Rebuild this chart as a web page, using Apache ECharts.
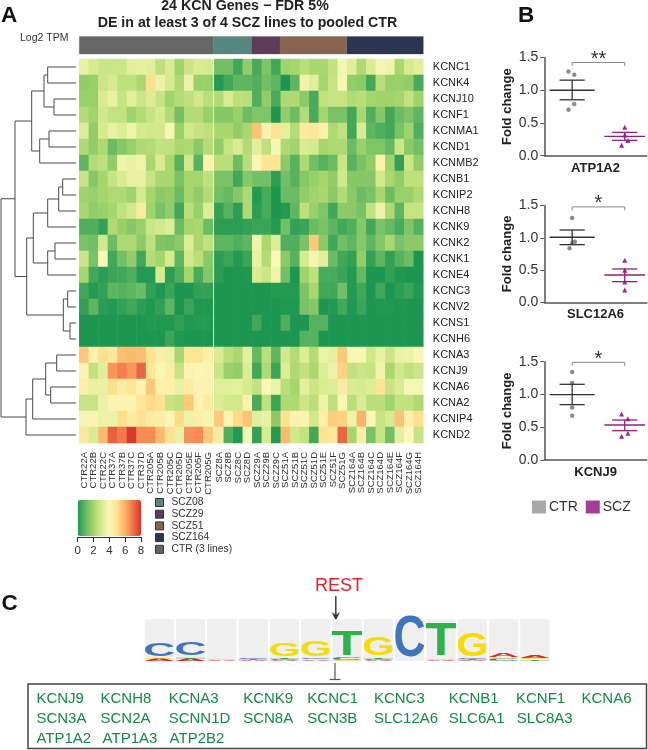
<!DOCTYPE html>
<html>
<head>
<meta charset="utf-8">
<style>html,body{margin:0;padding:0;background:#fff}#c{width:648px;height:750px}</style>
<script src="https://cdn.jsdelivr.net/npm/echarts@6/dist/echarts.min.js"></script>
</head>
<body>
<div id="c"></div>
<script>
const FONT = '"Liberation Sans", Arial, sans-serif';

// ---- Panel A data ----
const genes = ['KCNC1','KCNK4','KCNJ10','KCNF1','KCNMA1','KCND1','KCNMB2','KCNB1','KCNIP2','KCNH8','KCNK9','KCNK2','KCNK1','KCNE4','KCNC3','KCNV2','KCNS1','KCNH6','KCNA3','KCNJ9','KCNA6','KCNA2','KCNIP4','KCND2'];
const ctrSamples = ['CTR22A','CTR22B','CTR22C','CTR37A','CTR37B','CTR37C','CTR37D','CTR205A','CTR205B','CTR205C','CTR205D','CTR205E','CTR205F','CTR205G'];
const sczSamples = ['SCZ8A','SCZ8B','SCZ8C','SCZ8D','SCZ29A','SCZ29B','SCZ29C','SCZ51A','SCZ51B','SCZ51C','SCZ51D','SCZ51E','SCZ51F','SCZ51G','SCZ164A','SCZ164B','SCZ164C','SCZ164D','SCZ164E','SCZ164F','SCZ164G','SCZ164H'];
const ctrTpm = [
[3.5,3,2.8,2.8,2.8,3.3,3.4,3.3,2.5,3.1,1.9,2.8,3.1,3],
[1.7,1.8,2.8,3,2.5,2.5,2.1,5,3.6,3,2.2,3.6,1.8,1.8],
[1.8,1.8,3.1,3.5,2.7,3.3,2.8,3.2,2.7,1.9,2.3,2.5,2.9,2.4],
[2.3,1.9,2.9,2.6,2.6,1.9,2.3,2.7,3,2.3,1.2,2.3,2.3,1.8],
[3.2,1.7,3,3.5,3.2,3.7,3,2.9,2.9,3.9,1.8,2.9,2.7,2.5],
[2.2,1.7,2.2,1.1,1.5,1.8,2.2,2.3,2.6,2.6,2.1,2.2,1.6,2.3],
[0.9,2.3,2.5,1.7,3.7,3.5,3.7,2.1,3.1,2.1,0.8,2.9,0.8,4.3],
[2.7,1.5,2,2.7,3.1,3.5,3.5,2.7,2.1,2.1,1.3,2,2,2.5],
[1.9,1.8,2,2.2,2.2,1.9,3,2,1.6,1.7,1.1,2,1.7,2.3],
[2.1,1.7,1.8,2,2.6,2.9,4.5,1.9,1.3,1.7,0.5,2.4,1.8,3.2],
[0.7,0.7,0.3,2.2,1.8,1.5,1.8,2.8,2.9,3.2,1.1,2,2.1,1.1],
[1.3,1.2,2.9,1.1,2.2,2.2,1.6,2.5,1.4,1.3,1.6,3.2,2.1,2.6],
[2.8,1.3,4,0.5,1.2,1.7,0.5,2.3,2,3,0.9,2.9,2.4,1.6],
[2,0.5,0.2,0.4,0.5,0.7,0.1,0.1,3,0.2,0.7,2,0.6,1.5],
[0.5,0.1,0.3,0.9,0.8,0.9,1.1,0.3,0.05,0.4,0,0,0.3,0.3],
[0.3,0.9,0.2,0.1,0.3,0.5,0.2,0.05,0.3,0.9,0,0.4,0.05,0.05],
[0,0,0,0,0,0,0,0.1,0.05,0.05,0.25,0.05,0.1,0.1],
[0,0,0,0,0,0,0,0,0,0.4,0.05,0,0,0],
[5.5,4.3,5,4.7,5.7,5.8,5.7,4.9,4.4,3.6,2.1,4.8,4.8,4.3],
[4.2,2.6,3.3,6.4,6.8,6.4,7.2,4.8,3.9,4.4,2.7,4.2,4.1,4.2],
[4.4,3.5,3.5,5,4.5,4.8,4.2,5.5,4.3,4.3,3.5,4.5,4.2,4.2],
[2.7,2.7,3.6,4.2,4.2,4.2,4.7,5.1,4.9,2.7,2.5,5.5,4.2,4.5],
[3.8,4.2,3.6,3.6,5,4.5,4.9,4.5,4.4,3.9,5.1,3.6,4.4,3.8],
[4.7,3.1,5.8,7.3,6.9,7.9,6.6,6.6,5.8,4.9,3.5,6.5,6.6,5.5]
];
const sczTpm = [
[1.2,1.2,0.5,1.7,0.6,1.4,0.5,1.9,2,2.4,2.1,2.1,2.6,3.8,3.3,2.2,3.1,3.8,3.7,2.1,3,3.3],
[0.1,0.5,0.9,0.9,0.7,1.2,0.9,0,0.9,3.7,3.3,2,2.7,3.9,1.7,1.6,0.5,2.4,1.8,1.8,1.7,0.6],
[2.3,3.1,2.5,2.4,0.7,1.7,0.6,2.2,2.2,1.6,0.6,2.6,2.7,2.7,2.3,2.4,2,1.9,1.9,2,2.6,1.9],
[1.5,1.5,1.8,1.1,1.4,1.4,0,1.7,1.1,2.3,0.6,2,1.3,1.3,0.5,2.1,0.7,1.5,0.5,1.1,1.4,0.9],
[2.1,2.1,1.7,2.1,5.6,4.2,4.9,3.4,2.3,4.6,4.7,4.3,2.2,2.6,0.5,3.1,0.9,0.7,0.5,1.3,1.9,0.7],
[1.7,2.7,3.1,2.3,3.3,2.5,3.9,2.2,1.9,3.1,3,2,2.2,2.2,1.1,1.8,1.4,1.4,1,2.8,1.6,1.2],
[2.4,2.4,1.1,2.4,4.1,4.8,4.8,1.6,0.8,2.2,1.2,0.8,1.1,2.8,0.8,1.3,1.7,4.3,1.9,0.3,2.8,1.7],
[1.3,1.3,0.5,1.5,1.2,1.2,0.2,1.2,0.8,1.5,1.8,2,1.7,2.9,1.5,1.5,1.5,2.9,2.1,1.7,2.5,2.5],
[1.2,1,1.5,2.2,0.1,0.6,0,1.1,1.1,1.7,1.9,2.1,1.6,2.3,1.6,1.1,1.3,2.1,1.1,1.8,1.8,2.2],
[0.3,0.8,0.2,2.2,0.2,0.6,0,0.1,0.9,2.5,1.8,1.4,0.5,1.6,1.6,1.3,2.6,3.6,2.2,0.9,2.7,2.7],
[0.2,0.2,0.2,0.3,0.4,0.4,0.1,1.2,0.3,0.4,1.1,1.3,0.9,0.5,0.7,1.5,0.5,1.3,1,0.6,1.4,0.8],
[0.9,0.9,0.7,0.9,3.7,2.1,3.2,0.7,0.7,1.3,5.5,1.6,0.5,1.2,0.9,1.5,0.9,1.5,2.1,1.3,1.6,1.6],
[0.2,0.4,0.1,0.4,3.5,2.3,4,1.6,0.8,3,3.8,3.3,1.1,0.5,0.3,1.7,0.3,0.9,0.3,0.8,1.1,0],
[0.2,0,0,0.05,3.1,2.8,3.7,1.2,0,1.9,2.5,0.6,0.6,0.4,0.1,1,0,0,0.3,0.05,0,0],
[0,0,0,0,0,0,0.1,0.1,0.1,1.4,2.1,0.5,0.5,1.2,0.1,0.5,0,0.5,0,0.2,0.4,0.1],
[0,0,0,0,0,0,0,0.05,0.05,1.3,1.5,0,0.1,0.5,0.05,0.4,0,0.05,0.05,0,0,0],
[0,0,0,0,0.5,0,0,0.7,0,0,0.8,0.8,0,0,0,0,0,0,0,0,0,0],
[0,0,0,0,0,0,0,0,0,0.8,0.8,0,0,0,0,0,0,0,0,0,0,0],
[3.1,2.4,2.1,3.4,1,2.4,0.9,2.9,2.3,3.2,2.3,3.6,3.4,5.5,3.9,3.9,2.9,3.5,2.8,3.5,3.6,4.1],
[2.8,1.8,1.7,3.2,0.5,2.2,0.4,3.2,2.2,2.6,2.1,3.2,3.6,5.3,2.6,2.8,2.7,3.7,2.1,2.9,2.5,2.8],
[3.3,3.3,3.4,3,2.6,4.1,3.6,2.4,2,3.4,2.8,3.1,3.2,4.5,3.1,3,3.2,4.9,2.7,3.1,3.9,3.9],
[3.2,2.9,2.9,4.2,0.6,2.5,0.4,2.2,2.2,2.8,2.4,3.6,2.5,4.1,2.4,3.1,2.4,2.4,1.9,2.6,2.6,2.2],
[5.5,4.2,5.1,5.6,3.3,3.5,1.6,4.9,4.2,4.2,2.9,4.4,5.4,5.3,3.6,5.9,4.1,2.7,3,5.6,4.3,5],
[4.5,0.7,0.1,3.9,0.3,3,0.1,5.8,2.9,2.6,0.5,4.9,4.7,7.2,2,4.4,1.3,2.7,1.2,3.4,4,2.7]
];
// dendrogram as [merge height, left child, right child]; numbers are gene row indices
const geneTree = [75,
  [61,
    [44.3, [32, [28.3,0,1], [22,2,3]], [36.3, [27,4,5], 6]],
    [49.3,
      [42.7, [28.3, [17.3, [13.3,7,8], 9], 10], [28.3, [21,11,12], 13]],
      [12.7, [8.3,14,15], [6,16,17]]]],
  [50, [43.3, [30.3, [19.3,18,19], [25.3,20,21]], 22], 23]];
const lineNames = ['CTR (3 lines)','SCZ08','SCZ29','SCZ51','SCZ164'];
const lineCounts = [14,4,3,7,8];
const lineColors = ['#666666','#54887f','#5e3a5b','#886450','#2b3450'];
const legendOrder = ['SCZ08','SCZ29','SCZ51','SCZ164','CTR (3 lines)'];
const heatStops = ['#1c9650','#66b963','#a5d66c','#d6ea8e','#fbf8b8','#fde08d','#fcb064','#f27249','#d5332a'];

// ---- Panel B data ----
const panelGenes = ['ATP1A2','SLC12A6','KCNJ9'];
const panelStars = ['**','*','*'];
const ctrPoints = [
 [[0.93,1.287],[1.04,1.235],[1.04,0.788],[0.93,0.70]],
 [[1,1.307],[1.05,0.94],[1.0,0.92],[0.95,0.837]],
 [[1,1.343],[1,1.175],[1,0.80],[1,0.677]]];
const sczPoints = [
 [[2,0.433],[2,0.316],[2.06,0.234],[1.94,0.158]],
 [[2,0.65],[2,0.496],[2,0.315],[2,0.19]],
 [[1.94,0.702],[2.06,0.63],[2.06,0.407],[1.94,0.362]]];
const ctrStats = [[1.0,1.154,0.854],[1.008,1.12,0.893],[0.997,1.155,0.845]];
const sczStats = [[0.296,0.356,0.234],[0.423,0.516,0.32],[0.534,0.61,0.447]];
const bracketTops = [1.424,1.478,1.49];

// ---- Panel C data ----
const logoPositions = ['1','2','3','4','5','6','7','8','9','10','11','12','13'];
const logoColumnBits = [2,2,2,2,2,2,2,2,2,2,2,2,2];
const logoStacks = [
 [['A',0.1],['G',0.08],['C',0.64]],
 [['A',0.1],['T',0.03],['G',0.07],['C',0.64]],
 [['A',0.03],['G',0.05]],
 [['A',0.04],['T',0.06],['C',0.03]],
 [['A',0.05],['C',0.05],['T',0.08],['G',0.64]],
 [['A',0.07],['C',0.07],['T',0.02],['G',0.74]],
 [['G',0.06],['C',0.1],['T',1.18]],
 [['A',0.05],['C',0.05],['T',0.08],['G',0.86]],
 [['C',2.0]],
 [['A',0.05],['G',0.04],['T',1.6]],
 [['A',0.03],['T',0.05],['C',0.05],['G',1.12]],
 [['C',0.1],['G',0.08],['A',0.2]],
 [['T',0.07],['G',0.07],['A',0.15]]
];
const targetRows = [
 ['KCNJ9','KCNH8','KCNA3','KCNK9','KCNC1','KCNC3','KCNB1','KCNF1','KCNA6'],
 ['SCN3A','SCN2A','SCNN1D','SCN8A','SCN3B','SLC12A6','SLC6A1','SLC8A3'],
 ['ATP1A2','ATP1A3','ATP2B2']
];

// ---- Layout (pixels) ----
const targetX = [[36.4,100.5,168.7,243.2,307.3,373.9,448.7,516,581.5],[36.4,100.5,168.7,243.2,307.3,373.9,448.7,516.8],[36.4,102.6,169.6]];
const targetY = [698.5,719,739];
const panelTop = [57.5,205.5,361.7];
const panelH = [98.2,96.8,98.3];
const logoColors = {A:'#e5202b',C:'#3f74bf',G:'#f8dc00',T:'#2db34a'};
const inkWidth = {A:67,C:66,G:71,T:57};

const flatNodes = [];
function walk(n){
  if (typeof n === 'number') return {h:0,y:n};
  const a = walk(n[1]), b = walk(n[2]);
  flatNodes.push([n[0],a.y,b.y,a.h,b.h]);
  return {h:n[0],y:(a.y+b.y)/2};
}
walk(geneTree);

const rowCell = (mat)=>{
  const out=[];
  mat.forEach((r,y)=>r.forEach((v,x)=>out.push([x,y,v])));
  return out;
};

const grids=[], xAxes=[], yAxes=[], series=[];
function addGrid(g,x,y){grids.push(g);x.gridIndex=grids.length-1;y.gridIndex=grids.length-1;xAxes.push(x);yAxes.push(y);return grids.length-1;}
const hidden = {show:false};

// annotation bar
const annot = addGrid({left:79.3,top:36.5,width:344,height:17.5,show:true,borderColor:'#cfcfcf',borderWidth:1,backgroundColor:'#fff'},
 {type:'value',min:0,max:36,show:false},{type:'category',data:['line'],show:false});
lineNames.forEach((n,i)=>series.push({type:'bar',name:n,stack:'a',xAxisIndex:annot,yAxisIndex:annot,barWidth:'100%',data:[lineCounts[i]],itemStyle:{color:lineColors[i]},silent:true}));

// dendrogram
const dg = addGrid({left:1,top:59,width:75,height:384},
 {type:'value',min:0,max:75,inverse:true,show:false},{type:'value',min:-0.5,max:23.5,inverse:true,show:false});
series.push({type:'custom',xAxisIndex:dg,yAxisIndex:dg,silent:true,data:flatNodes,
 renderItem:(p,api)=>{
  const [h,yA,yB,hA,hB]=[0,1,2,3,4].map(i=>api.value(i));
  return {type:'polyline',shape:{points:[api.coord([hA,yA]),api.coord([h,yA]),api.coord([h,yB]),api.coord([hB,yB])]},
          style:{fill:'none',stroke:'#4a4a4a',lineWidth:1}};
 }});

// heatmaps
const labelX={interval:0,rotate:90,fontSize:9.5,color:'#333',fontFamily:FONT,margin:9};
const ga = addGrid({left:79.3,top:59,width:133.6,height:384},
 {type:'category',data:ctrSamples,axisLine:hidden,axisTick:hidden,axisLabel:labelX,splitArea:hidden},
 {type:'category',data:genes,inverse:true,show:false});
const gb = addGrid({left:214.3,top:59,width:209,height:384},
 {type:'category',data:sczSamples,axisLine:hidden,axisTick:hidden,axisLabel:labelX,splitArea:hidden},
 {type:'category',data:genes,inverse:true,position:'right',axisLine:hidden,axisTick:hidden,axisLabel:{fontSize:11,color:'#222',fontFamily:FONT,margin:9.5,interval:0}});
const hmA=series.length;
series.push({type:'heatmap',xAxisIndex:ga,yAxisIndex:ga,data:rowCell(ctrTpm),silent:true,emphasis:{disabled:true}});
series.push({type:'heatmap',xAxisIndex:gb,yAxisIndex:gb,data:rowCell(sczTpm),silent:true,emphasis:{disabled:true}});

// colour scale axis
addGrid({left:77.7,top:536,width:63.3,height:1},
 {type:'value',min:0,max:8,interval:2,position:'bottom',axisLine:{lineStyle:{color:'#333'}},axisTick:{length:5,lineStyle:{color:'#333'}},axisLabel:{fontSize:11.5,color:'#333',fontFamily:FONT,margin:8},splitLine:hidden},
 {type:'value',show:false});

// panel B
panelGenes.forEach((g,i)=>{
 const idx=addGrid({left:544.3,top:panelTop[i],width:102.5,height:panelH[i]},
  {type:'value',min:0.47,max:2.42,name:g,nameLocation:'middle',nameGap:6,nameTextStyle:{fontWeight:'bold',fontSize:13,color:'#222',fontFamily:FONT},
   axisLine:{lineStyle:{color:'#555',width:1.5}},axisTick:hidden,axisLabel:hidden,splitLine:hidden},
  {type:'value',min:0,max:1.5,interval:0.5,name:'Fold change',nameLocation:'middle',nameGap:30,nameTextStyle:{fontWeight:'bold',fontSize:13,color:'#222',fontFamily:FONT},
   axisLine:{show:true,lineStyle:{color:'#555',width:1.5}},axisTick:{show:true,length:4,lineStyle:{color:'#555'}},
   axisLabel:{fontSize:14,color:'#333',fontFamily:FONT,margin:6,formatter:v=>v.toFixed(1)},splitLine:hidden});
 series.push({type:'scatter',name:'CTR',xAxisIndex:idx,yAxisIndex:idx,data:ctrPoints[i],symbol:'circle',symbolSize:4.5,itemStyle:{color:'#8c8c8e',opacity:1},silent:true});
 series.push({type:'scatter',name:'SCZ',xAxisIndex:idx,yAxisIndex:idx,data:sczPoints[i],symbol:'triangle',symbolSize:5,itemStyle:{color:'#a0268a',opacity:1},silent:true});
 const stats=[[1,...ctrStats[i],'#333',22.5],[2,...sczStats[i],'#8e1f80',20.4]];
 series.push({type:'custom',xAxisIndex:idx,yAxisIndex:idx,silent:true,z:5,data:stats.map(s=>s.slice(0,4)),
  renderItem:(p,api)=>{
   const s=stats[p.dataIndex];
   const m=api.coord([s[0],s[1]]),h=api.coord([s[0],s[2]]),l=api.coord([s[0],s[3]]);
   const st={stroke:s[4],lineWidth:1.3,fill:'none'};
   const ln=(x1,y1,x2,y2)=>({type:'line',shape:{x1,y1,x2,y2},style:st});
   return {type:'group',children:[ln(m[0]-s[5],m[1],m[0]+s[5],m[1]),ln(h[0],h[1],l[0],l[1]),ln(h[0]-12.6,h[1],h[0]+12.6,h[1]),ln(l[0]-12.6,l[1],l[0]+12.6,l[1])]};
  }});
 series.push({type:'custom',xAxisIndex:idx,yAxisIndex:idx,silent:true,data:[[1,2,bracketTops[i]]],
  renderItem:(p,api)=>{
   const a=api.coord([api.value(0),api.value(2)]),b=api.coord([api.value(1),api.value(2)]);
   return {type:'group',children:[
    {type:'polyline',shape:{points:[[a[0],a[1]+3.5],[a[0],a[1]],[b[0],b[1]],[b[0],b[1]+3.5]]},style:{fill:'none',stroke:'#8a8a8a',lineWidth:1}},
    {type:'text',x:(a[0]+b[0])/2,y:a[1]-3,style:{text:panelStars[i],font:'20px '+FONT,fill:'#333',align:'center',verticalAlign:'middle',textAlign:'center',textVerticalAlign:'middle'}}
   ]};
  }});
});

// logo
const lg=addGrid({left:143.6,top:619.3,width:406.9,height:41.7},
 {type:'category',data:logoPositions,show:false},{type:'value',min:0,max:2,show:false});
series.push({type:'bar',xAxisIndex:lg,yAxisIndex:lg,data:logoColumnBits,barWidth:29.3,itemStyle:{color:'#efefef'},silent:true});
const logoData=[];
logoStacks.forEach((st,c)=>{let base=0;st.forEach(([ch,b])=>{logoData.push([c,base,b,ch]);base+=b;});});
series.push({type:'custom',xAxisIndex:lg,yAxisIndex:lg,silent:true,z:5,data:logoData.map(d=>d.slice(0,3)),
 renderItem:(p,api)=>{
  const d=logoData[p.dataIndex];
  const lo=api.coord([d[0],d[1]]),hi=api.coord([d[0],d[1]+d[2]]);
  return {type:'text',x:lo[0],y:(lo[1]+hi[1])/2,scaleX:29.3/inkWidth[d[3]],scaleY:Math.abs(lo[1]-hi[1])/72,
   style:{text:d[3],font:'bold 100px '+FONT,fill:logoColors[d[3]],align:'center',verticalAlign:'middle',textAlign:'center',textVerticalAlign:'middle'}};
 }});

// free text & annotations
const txt=(t,x,y,size,extra={})=>({type:'text',x,y,style:Object.assign({text:t,font:size+'px '+FONT,fill:'#222',verticalAlign:'middle'},extra)});
const bold=(t,x,y,size,extra={})=>({type:'text',x,y,style:Object.assign({text:t,font:'bold '+size+'px '+FONT,fill:'#111',verticalAlign:'middle'},extra)});
const stroke={stroke:'#333',lineWidth:1.4};
const graphic=[
 bold('A',1,15.5,22.5),bold('B',518,15.5,22.5),bold('C',1.5,604,22.5),
 bold('24 KCN Genes \u2212 FDR 5%',245,6,14.2,{align:'center',fill:'#222'}),
 bold('DE in at least 3 of 4 SCZ lines to pooled CTR',247.5,23.5,14.2,{align:'center',fill:'#222'}),
 txt('Log2 TPM',20,38.5,10.5,{fill:'#333'}),
 txt('REST',339,586,18,{align:'center',fill:'#e8202b'}),
 {type:'line',shape:{x1:335.8,y1:596,x2:335.8,y2:616},style:stroke},
 {type:'polygon',shape:{points:[[331.5,612],[335.8,615],[340,612],[335.8,620.5]]},style:{fill:'#333'}},
 {type:'line',shape:{x1:335,y1:663,x2:335,y2:679.5},style:{stroke:'#555',lineWidth:1.2}},
 {type:'line',shape:{x1:329.6,y1:679.5,x2:340.4,y2:679.5},style:{stroke:'#555',lineWidth:1.2}},
 {type:'rect',shape:{x:28,y:684,width:618.5,height:64.5},style:{fill:'none',stroke:'#444',lineWidth:1.5}}
];
targetRows.forEach((r,i)=>r.forEach((t,j)=>graphic.push(txt(t,targetX[i][j],targetY[i],15,{fill:'#118a47'}))));

const chart=echarts.init(document.getElementById('c'),null,{renderer:'canvas'});
chart.setOption({
 animation:false,backgroundColor:'#fff',textStyle:{fontFamily:FONT},
 grid:grids,xAxis:xAxes,yAxis:yAxes,series,graphic,
 visualMap:[{type:'continuous',min:0,max:8,seriesIndex:[hmA,hmA+1],orient:'horizontal',left:77.7,top:500,itemWidth:36,itemHeight:63.3,padding:0,
  calculable:false,hoverLink:false,text:null,showLabel:false,inRange:{color:heatStops}}],
 legend:[
  {data:legendOrder.map(n=>({name:n,icon:'rect',itemStyle:{borderColor:'#333',borderWidth:1}})),orient:'vertical',left:155,top:497,itemWidth:8,itemHeight:8,itemGap:0.7,padding:0,selectedMode:false,
   textStyle:{fontSize:10.3,color:'#333',fontFamily:FONT,lineHeight:11,padding:[0,0,0,3]}},
  {data:[{name:'CTR',icon:'rect',itemStyle:{color:'#a7a9ac'}},{name:'SCZ',icon:'rect',itemStyle:{color:'#a23e96'}}],orient:'horizontal',left:532,top:500,itemWidth:14,itemHeight:13,itemGap:8,padding:0,selectedMode:false,
   textStyle:{fontSize:14,color:'#333',fontFamily:FONT,padding:[0,0,0,-2]}}
 ]
});
</script>
</body>
</html>
